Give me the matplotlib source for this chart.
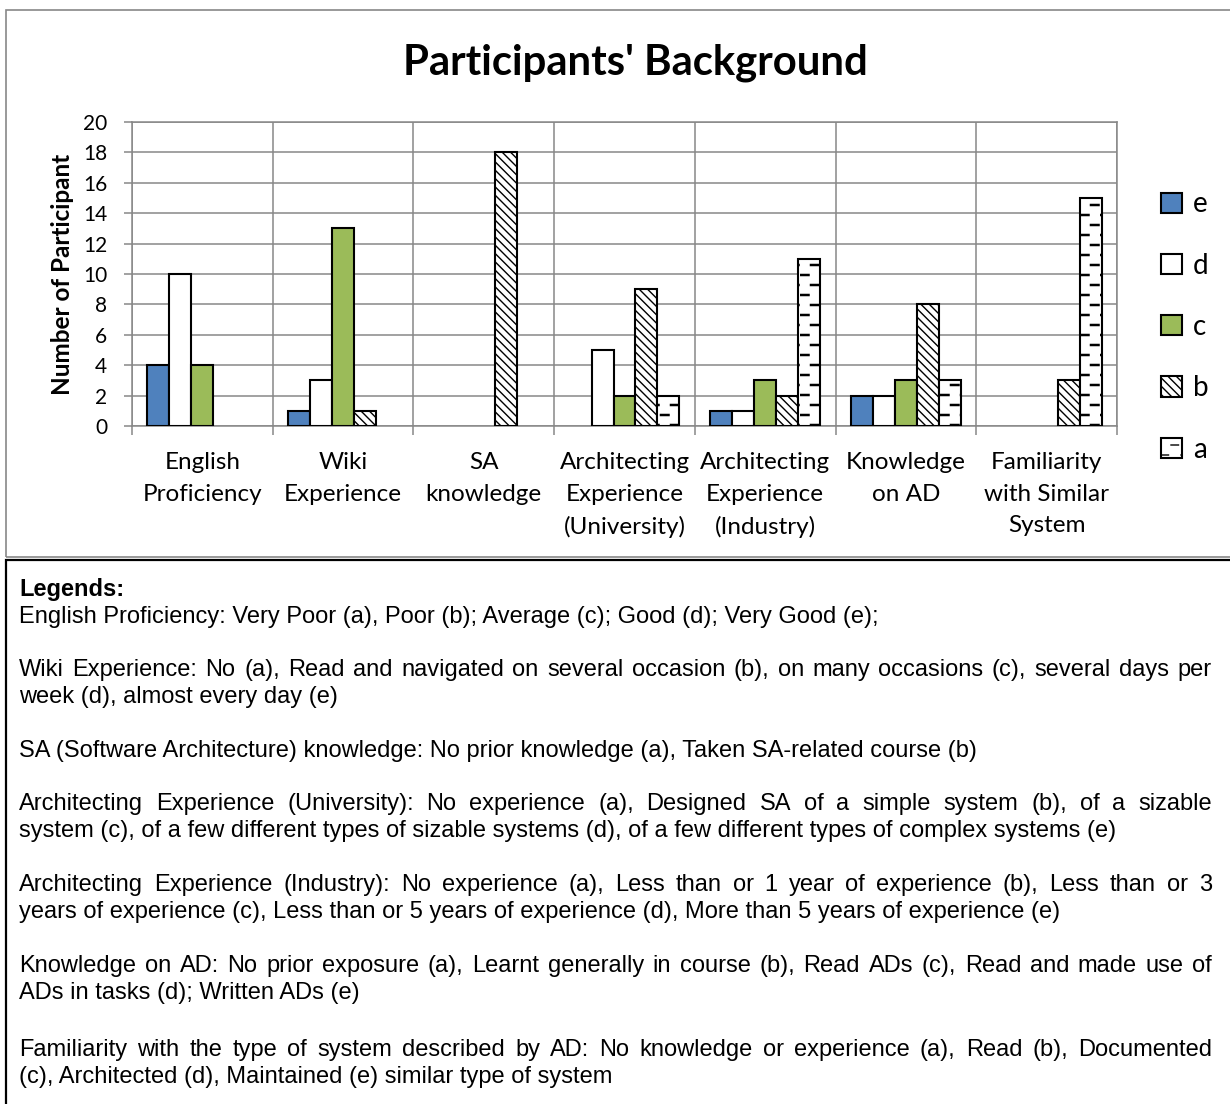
import numpy as np
import matplotlib
matplotlib.use('Agg')
import matplotlib.pyplot as plt
import matplotlib.hatch as mhatch
from matplotlib.path import Path
from matplotlib.patches import Rectangle

categories = ['English\nProficiency', 'Wiki\nExperience', 'SA\nknowledge',
              'Architecting\nExperience\n(University)', 'Architecting\nExperience\n(Industry)',
              'Knowledge\non AD', 'Familiarity\nwith Similar\nSystem']
series_names = ['e', 'd', 'c', 'b', 'a']
e_vals = [4, 1, 0, 0, 1, 2, 0]
d_vals = [10, 3, 0, 5, 1, 2, 0]
c_vals = [4, 13, 0, 2, 3, 3, 0]
b_vals = [0, 1, 18, 9, 2, 8, 3]
a_vals = [0, 0, 0, 2, 11, 3, 15]
y_ticks = list(range(0, 21, 2))

legend_lines = [
    ("English Proficiency: Very Poor (a), Poor (b); Average (c); Good (d); Very Good (e);", False),
    ("Wiki Experience: No (a), Read and navigated on several occasion (b), on many occasions (c), several days per", True),
    ("week (d), almost every day (e)", False),
    ("SA (Software Architecture) knowledge: No prior knowledge (a), Taken SA-related course (b)", False),
    ("Architecting Experience (University): No experience (a), Designed SA of a simple system (b), of a sizable", True),
    ("system (c), of a few different types of sizable systems (d), of a few different types of complex systems (e)", False),
    ("Architecting Experience (Industry): No experience (a), Less than or 1 year of experience (b), Less than or 3", True),
    ("years of experience (c), Less than or 5 years of experience (d), More than 5 years of experience (e)", False),
    ("Knowledge on AD: No prior exposure (a), Learnt generally in course (b), Read ADs (c), Read and made use of", True),
    ("ADs in tasks (d); Written ADs (e)", False),
    ("Familiarity with the type of system described by AD: No knowledge or experience (a), Read (b), Documented", True),
    ("(c), Architected (d), Maintained (e) similar type of system", False),
]
line_y = [615, 668, 695, 749, 802, 829, 883, 910, 964, 991, 1048, 1075]


# dashed "brick" hatch like the Excel pattern, hooked on the '*' character
class DashHatch(mhatch.HatchPatternBase):
    def __init__(self, hatch, density):
        n = hatch.count('*')
        self.rows = 10 * n
        self.cols = 5
        self.num_vertices = self.rows * self.cols * 2

    def set_vertices_and_codes(self, vertices, codes):
        k = 0
        for i in range(self.rows):
            y = (i + 0.5) / self.rows
            off = 0.0 if i % 2 == 0 else 0.5 / self.cols
            for j in range(self.cols):
                x0 = off + j / self.cols + 0.01
                vertices[k] = (x0, y)
                vertices[k + 1] = (x0 + 0.075, y)
                codes[k] = Path.MOVETO
                codes[k + 1] = Path.LINETO
                k += 2


mhatch._hatch_types = [t for t in mhatch._hatch_types if t is not mhatch.Stars] + [DashHatch]

plt.rcParams['hatch.color'] = 'black'

W, H = 1230, 1104
fig = plt.figure(figsize=(W / 100, H / 100), dpi=100)
grey = '#878787'

# chart frame and text frame
fig.patches.append(Rectangle((6 / W, 1 - 557 / H), 1.1, (557 - 10) / H, transform=fig.transFigure,
                             fill=False, ec=grey, lw=1.2))
fig.patches.append(Rectangle((6 / W, -0.05), 1.1, (1 - 560 / H) + 0.05, transform=fig.transFigure,
                             fill=False, ec='black', lw=1.6))

ax = fig.add_axes([132 / W, 1 - 426 / H, 985 / W, 304 / H])

values = [e_vals, d_vals, c_vals, b_vals, a_vals]
faces = ['#4F81BD', 'white', '#9BBB59', 'white', 'white']
hatches = [None, None, None, '\\\\\\\\', '*']
hatch_lw = [1.0, 1.0, 1.0, 1.0, 1.8]
x = np.arange(len(categories)) + 0.5
w = 0.156
for k, (name, vals) in enumerate(zip(series_names, values)):
    h = np.array(vals, dtype=float)
    h = np.where(h > 0, h, np.nan)
    with plt.rc_context({'hatch.linewidth': hatch_lw[k]}):
        bars = ax.bar(x + (k - 2) * w, h, width=w, color=faces[k], edgecolor='black', linewidth=1.5,
                      hatch=hatches[k], label=name, zorder=3)
    for p in bars:
        if hasattr(p, 'set_hatch_linewidth'):
            p.set_hatch_linewidth(hatch_lw[k])

ax.set_xlim(0, len(categories))
ax.set_ylim(0, 20)
ax.set_yticks(y_ticks)
ax.set_xticks(x)
ax.set_xticklabels(categories, fontsize=17.5, family='Lato', linespacing=1.6)
ax.set_xticks(np.arange(len(categories) + 1), minor=True)
ax.tick_params(axis='x', which='major', length=0, pad=19)
ax.tick_params(axis='x', which='minor', length=6.5, width=1.1, color=grey)
ax.tick_params(axis='y', length=5.8, width=1.1, color=grey, pad=12)
for lab in ax.get_yticklabels():
    lab.set_fontsize(15)
    lab.set_family('Lato')
ax.grid(axis='y', which='major', color=grey, lw=1.1, zorder=0)
ax.grid(axis='x', which='minor', color=grey, lw=1.1, zorder=0)
ax.set_axisbelow(True)
for s in ax.spines.values():
    s.set_color(grey)
    s.set_linewidth(1.1)

ax.set_ylabel('Number of Participant', fontsize=17.5, fontweight='bold', family='Lato', va='center')
ax.yaxis.set_label_coords(-0.071, 0.5)

fig.text(635 / W, 1 - 63 / H, "Participants' Background", fontsize=30.2, fontweight='bold',
         family='Lato', ha='center', va='center')

ax.legend(loc='center left', bbox_to_anchor=(1161 / W, 1 - 327 / H), bbox_transform=fig.transFigure,
          frameon=False, handlelength=0.75, handleheight=0.75, handletextpad=0.4,
          labelspacing=1.27, borderpad=0, borderaxespad=0, prop={'family': 'Lato', 'size': 20})

# legend text under the chart, justified like the original document
fs = 17
fig.text(19 / W, 1 - 596 / H, 'Legends:', fontsize=fs, fontweight='bold',
         family='Liberation Sans', va='baseline')
renderer = fig.canvas.get_renderer()
x0, x1 = 19, 1212
for (line, justify), yp in zip(legend_lines, line_y):
    yb = 1 - (yp + 8) / H
    if not justify:
        fig.text(x0 / W, yb, line, fontsize=fs, family='Liberation Sans', va='baseline')
        continue
    words = line.split(' ')
    texts = [fig.text(0, yb, wd, fontsize=fs, family='Liberation Sans', va='baseline')
             for wd in words]
    widths = [t.get_window_extent(renderer).width for t in texts]
    gap = (x1 - x0 - sum(widths)) / (len(words) - 1)
    pos = x0
    for t, wd in zip(texts, widths):
        t.set_x(pos / W)
        pos += wd + gap

fig.savefig('out.png', dpi=100)
